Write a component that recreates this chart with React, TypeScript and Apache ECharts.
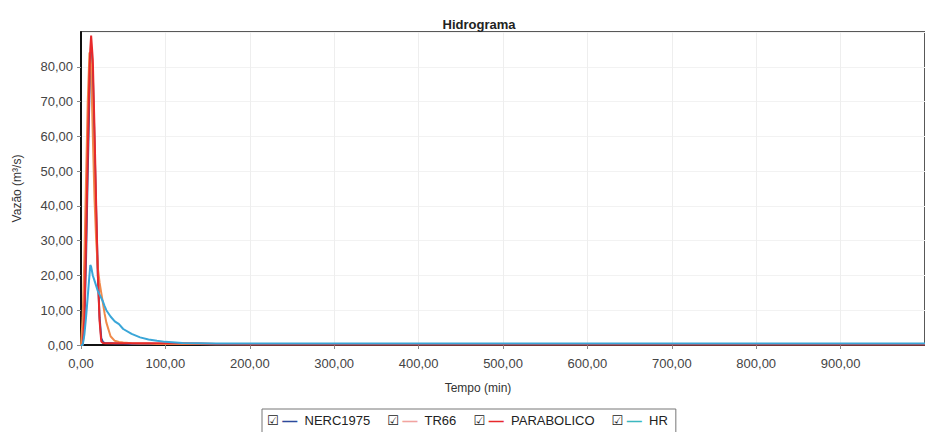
import React, { useEffect, useRef } from "react";
import * as echarts from "echarts";

const times = [0, 2, 4, 6, 8, 10, 11, 12, 14, 16, 18, 20, 22, 24, 26, 28, 30, 35, 40, 45, 50, 60, 70, 80, 90, 100, 120, 140, 160, 200, 300, 400, 500, 600, 700, 800, 900, 1000];
const nerc1975 = [0, 0, 6, 25, 50, 72, 80, 85, 78, 58, 38, 20, 8, 2, 0.8, 0.6, 0.5, 0.5, 0.4, 0.4, 0.4, 0.3, 0.3, 0.3, 0.3, 0.3, 0.3, 0.3, 0.2, 0.2, 0.2, 0.2, 0.2, 0.2, 0.2, 0.2, 0.2, 0.2];
const tr66 = [0, 8, 25, 48, 70, 84, 84, 80, 60, 42, 30, 22, 18, 15, 12, 9, 6.5, 2.5, 1.2, 0.9, 0.7, 0.5, 0.4, 0.4, 0.3, 0.3, 0.3, 0.3, 0.2, 0.2, 0.2, 0.2, 0.2, 0.2, 0.2, 0.2, 0.2, 0.2];
const parabolico = [0, 0, 8, 30, 55, 78, 85, 89, 82, 62, 40, 20, 7, 1, 0.6, 0.5, 0.5, 0.5, 0.5, 0.5, 0.5, 0.5, 0.5, 0.5, 0.5, 0.5, 0.5, 0.4, 0.3, 0.2, 0.2, 0.2, 0.2, 0.2, 0.2, 0.2, 0.2, 0.2];
const hr = [0, 0, 3, 8, 14, 20, 23, 22.5, 20, 18.5, 17, 15.5, 14.5, 13.5, 12.5, 11.2, 10, 8.2, 6.8, 6, 4.6, 3.2, 2.2, 1.6, 1.2, 0.9, 0.6, 0.5, 0.4, 0.4, 0.4, 0.4, 0.4, 0.4, 0.4, 0.4, 0.4, 0.4];

const seriesNames = ["NERC1975", "TR66", "PARABOLICO", "HR"];
const seriesColors = ["#2d4a9c", "#f08a4b", "#e8292b", "#3aa6d8"];
const legendColors = ["#2d4a9c", "#f2a3a0", "#e8292b", "#3bb8c0"];
const seriesValues = [nerc1975, tr66, parabolico, hr];

const fmt = (v: number) => v.toFixed(2).replace(".", ",");

export default function App() {
  const ref = useRef<HTMLDivElement>(null);
  useEffect(() => {
    document.body.style.margin = "0";
    const chart = echarts.init(ref.current!, null, { renderer: "svg" });
    const rich: any = {
      cb: { fontFamily: "DejaVu Sans", fontSize: 13, color: "#222" },
    };
    seriesNames.forEach((_, i) => {
      rich["l" + i] = { fontSize: 15, color: legendColors[i], fontWeight: "bold" };
    });
    chart.setOption({
      animation: false,
      backgroundColor: "#fff",
      textStyle: { fontFamily: "Liberation Sans" },
      title: {
        text: "Hidrograma",
        left: 474,
        top: 13,
        textAlign: "center",
        textStyle: { fontSize: 13, fontWeight: "bold", color: "#222", fontFamily: "Liberation Sans" },
      },
      grid: {
        left: 81,
        top: 32,
        width: 874,
        height: 313,
        show: true,
        borderColor: "#222",
        borderWidth: 1.5,
        backgroundColor: "#fff",
      },
      xAxis: {
        type: "value",
        min: 0,
        max: 1000,
        interval: 100,
        name: "Tempo (min)",
        nameLocation: "middle",
        nameGap: 37,
        nameTextStyle: { fontSize: 12, color: "#333", padding: [0, 50, 0, 0] },
        axisLine: { show: true, lineStyle: { color: "#111", width: 2 } },
        axisTick: { show: true, length: 4, lineStyle: { color: "#888" } },
        axisLabel: { fontSize: 13, color: "#444", margin: 12, formatter: fmt, showMaxLabel: false },
        splitLine: { show: true, lineStyle: { color: "#eeeeee", width: 1 } },
      },
      yAxis: {
        type: "value",
        min: 0,
        max: 90,
        interval: 10,
        name: "Vazão (m³/s)",
        nameLocation: "middle",
        nameGap: 58,
        nameTextStyle: { fontSize: 12, color: "#333" },
        axisLine: { show: true, lineStyle: { color: "#111", width: 2 } },
        axisTick: { show: true, length: 4, lineStyle: { color: "#888" } },
        axisLabel: { fontSize: 13, color: "#444", margin: 8, formatter: fmt, showMaxLabel: false },
        splitLine: { show: true, lineStyle: { color: "#f2f2f2", width: 1 } },
      },
      legend: {
        left: 262,
        top: 409,
        data: seriesNames,
        icon: "rect",
        itemWidth: 0,
        itemHeight: 0,
        itemGap: 12,
        backgroundColor: "#fff",
        borderColor: "#777",
        borderWidth: 1,
        padding: [4, 8, 6, 0],
        formatter: (name: string) => {
          const i = seriesNames.indexOf(name);
          return `{cb|☑} {l${i}|—}  ${name}`;
        },
        textStyle: { fontSize: 13, color: "#222", rich },
      },
      series: seriesNames.map((name, i) => ({
        name,
        type: "line",
        data: times.map((t, k) => [t, seriesValues[i][k]]),
        showSymbol: false,
        symbol: "none",
        lineStyle: { color: seriesColors[i], width: 2 },
        itemStyle: { color: seriesColors[i] },
        z: 2 + i,
      })),
    });
    return () => chart.dispose();
  }, []);
  return <div ref={ref} style={{ width: 925, height: 432 }} />;
}
